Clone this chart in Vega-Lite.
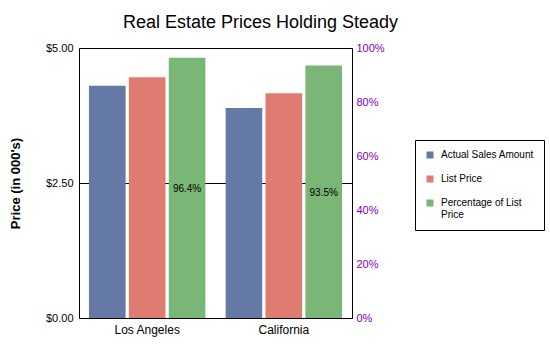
{
  "$schema": "https://vega.github.io/schema/vega-lite/v6.json",
  "width": 273,
  "height": 270,
  "autosize": "none",
  "padding": {"left": 79, "top": 48, "right": 198, "bottom": 37},
  "background": "white",
  "title": {"text": "Real Estate Prices Holding Steady", "fontSize": 18, "fontWeight": "normal", "font": "Liberation Sans", "color": "black", "anchor": "middle", "dx": 45, "offset": 10},
  "data": {"values": [
    {"city": "Los Angeles", "series": "Actual Sales Amount", "value": 4.30},
    {"city": "Los Angeles", "series": "List Price", "value": 4.46},
    {"city": "Los Angeles", "series": "Percentage of List Price", "value": 0.964},
    {"city": "California", "series": "Actual Sales Amount", "value": 3.89},
    {"city": "California", "series": "List Price", "value": 4.16},
    {"city": "California", "series": "Percentage of List Price", "value": 0.935}
  ]},
  "encoding": {
    "x": {"field": "city", "type": "nominal", "sort": ["Los Angeles", "California"],
      "scale": {"paddingInner": 0.148, "paddingOuter": 0.073},
      "axis": {"title": null, "labelAngle": 0, "ticks": false, "domain": false, "labelFontSize": 12, "labelPadding": 6, "labelColor": "black", "labelFont": "Liberation Sans"}},
    "xOffset": {"field": "series", "type": "nominal",
      "scale": {"domain": ["Actual Sales Amount", "List Price", "Percentage of List Price"], "paddingInner": 0.0825, "paddingOuter": 0}},
    "color": {"field": "series", "type": "nominal",
      "scale": {"domain": ["Actual Sales Amount", "List Price", "Percentage of List Price"], "range": ["#6479a6", "#e07b72", "#7ab675"]},
      "legend": {"title": null, "orient": "none", "legendX": 336, "legendY": 92, "strokeColor": "black", "fillColor": "white", "padding": 10, "symbolType": "square", "symbolSize": 49, "symbolStrokeWidth": 0, "labelFontSize": 10, "labelFont": "Liberation Sans", "labelColor": "black", "labelOffset": 6, "rowPadding": 14, "labelLimit": 200,
        "labelExpr": "datum.label == 'Percentage of List Price' ? ['Percentage of List', 'Price'] : datum.label"}}
  },
  "layer": [
    {
      "transform": [{"filter": "datum.series != 'Percentage of List Price'"}],
      "mark": {"type": "bar"},
      "encoding": {
        "y": {"field": "value", "type": "quantitative", "scale": {"domain": [0, 5], "nice": false},
          "axis": {"orient": "left", "values": [0, 2.5, 5], "format": "$.2f", "ticks": false, "domain": false, "grid": true, "gridColor": "black", "gridOpacity": 1, "gridWidth": 1, "labelPadding": 6, "labelFontSize": 11, "labelFont": "Liberation Sans", "labelColor": "black", "title": "Price (in 000's)", "titleFontSize": 13, "titleFontWeight": "bold", "titleFont": "Liberation Sans", "titleColor": "black", "titlePadding": 23}}
      }
    },
    {
      "transform": [{"filter": "datum.series == 'Percentage of List Price'"}, {"calculate": "datum.value / 2", "as": "mid"}],
      "layer": [
        {
          "mark": {"type": "bar"},
          "encoding": {
            "y": {"field": "value", "type": "quantitative", "scale": {"domain": [0, 1], "nice": false},
              "axis": {"orient": "right", "values": [0, 0.2, 0.4, 0.6, 0.8, 1], "format": ".0%", "ticks": false, "domain": false, "grid": false, "labelPadding": 4, "labelFontSize": 11, "labelFont": "Liberation Sans", "labelColor": "#8000c0", "title": null}}
          }
        },
        {
          "mark": {"type": "text", "fontSize": 10, "font": "Liberation Sans", "dy": 1},
          "encoding": {
            "y": {"field": "mid", "type": "quantitative",
              "axis": {"orient": "right", "values": [0, 0.2, 0.4, 0.6, 0.8, 1], "format": ".0%", "ticks": false, "domain": false, "grid": false, "labelPadding": 4, "labelFontSize": 11, "labelFont": "Liberation Sans", "labelColor": "#8000c0", "title": null}},
            "text": {"field": "value", "type": "quantitative", "format": ".1%"},
            "color": {"value": "black"}
          }
        }
      ]
    }
  ],
  "resolve": {"scale": {"y": "independent"}},
  "config": {"view": {"stroke": "black", "strokeWidth": 1}}
}
